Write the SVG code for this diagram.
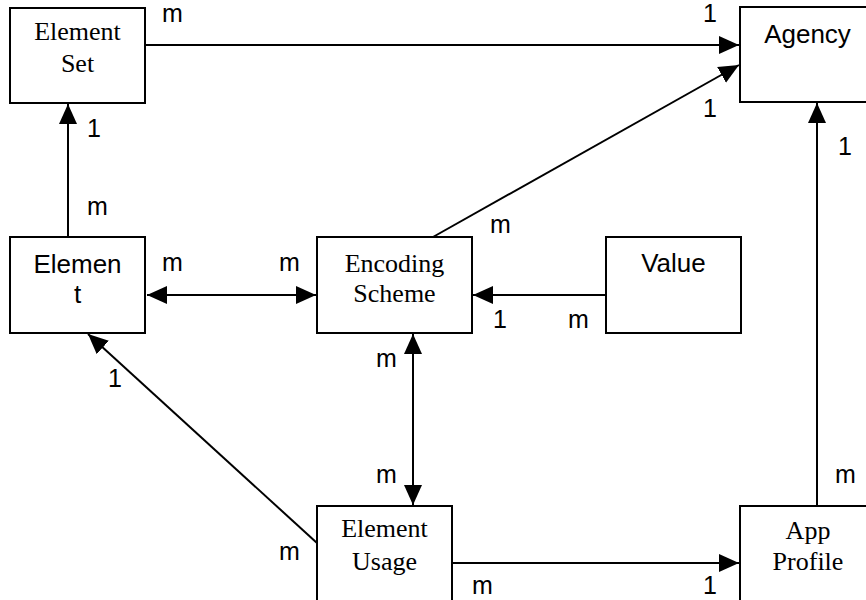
<svg xmlns="http://www.w3.org/2000/svg" width="866" height="600" viewBox="0 0 866 600">
<style>
.box{fill:#fff;stroke:#000;stroke-width:2}
.ser{font-family:"Liberation Serif","Times New Roman",serif;font-size:26px;text-anchor:middle;fill:#000}
.san{font-family:"Liberation Sans",Arial,sans-serif;font-size:26px;text-anchor:middle;fill:#000}
.lbl{font-family:"Liberation Sans",Arial,sans-serif;font-size:25px;fill:#000}
.ln{stroke:#000;stroke-width:2;fill:none}
</style>
<defs>
<marker id="ah" markerUnits="userSpaceOnUse" markerWidth="21" markerHeight="20" refX="20" refY="10" orient="auto-start-reverse">
<path d="M0,1 L20,10 L0,19 Z" fill="#000"/>
</marker>
</defs>
<rect width="866" height="600" fill="#fff"/>
<g id="connectors">
<line class="ln" x1="145" y1="45" x2="739" y2="45" marker-end="url(#ah)"/>
<line class="ln" x1="433" y1="237" x2="739" y2="65" marker-end="url(#ah)"/>
<line class="ln" x1="68" y1="237" x2="68" y2="104" marker-end="url(#ah)"/>
<line class="ln" x1="147" y1="295" x2="316" y2="295" marker-start="url(#ah)" marker-end="url(#ah)"/>
<line class="ln" x1="606" y1="295" x2="473" y2="295" marker-end="url(#ah)"/>
<line class="ln" x1="413" y1="334" x2="413" y2="505" marker-start="url(#ah)" marker-end="url(#ah)"/>
<line class="ln" x1="317" y1="543" x2="88" y2="334" marker-end="url(#ah)"/>
<line class="ln" x1="452" y1="563" x2="739" y2="563" marker-end="url(#ah)"/>
<line class="ln" x1="817" y1="506" x2="817" y2="103" marker-end="url(#ah)"/>
</g>
<g id="labels">
<text class="lbl" x="162" y="22">m</text>
<text class="lbl" x="703" y="22">1</text>
<text class="lbl" x="703" y="117">1</text>
<text class="lbl" x="87" y="137">1</text>
<text class="lbl" x="87" y="215">m</text>
<text class="lbl" x="490" y="233">m</text>
<text class="lbl" x="162" y="271">m</text>
<text class="lbl" x="279" y="271">m</text>
<text class="lbl" x="493" y="328">1</text>
<text class="lbl" x="568" y="328">m</text>
<text class="lbl" x="838" y="155">1</text>
<text class="lbl" x="376" y="367">m</text>
<text class="lbl" x="108" y="387">1</text>
<text class="lbl" x="376" y="483">m</text>
<text class="lbl" x="835" y="483">m</text>
<text class="lbl" x="279" y="560">m</text>
<text class="lbl" x="472" y="594">m</text>
<text class="lbl" x="703" y="594">1</text>
</g>
<g id="element-set">
<rect class="box" x="10" y="8" width="135" height="95"/>
<text class="ser" x="77.5" y="40">Element</text>
<text class="ser" x="77.5" y="72">Set</text>
</g>
<g id="agency">
<rect class="box" x="740" y="7" width="135" height="95"/>
<text class="san" x="807.5" y="43">Agency</text>
</g>
<g id="element">
<rect class="box" x="10" y="237" width="135" height="96"/>
<text class="san" x="77.5" y="273">Elemen</text>
<text class="san" x="77.5" y="303">t</text>
</g>
<g id="encoding-scheme">
<rect class="box" x="317" y="237" width="155" height="96"/>
<text class="ser" x="394.5" y="272">Encoding</text>
<text class="ser" x="394.5" y="302">Scheme</text>
</g>
<g id="value">
<rect class="box" x="606" y="237" width="135" height="96"/>
<text class="san" x="673.5" y="272">Value</text>
</g>
<g id="element-usage">
<rect class="box" x="317" y="506" width="135" height="130"/>
<text class="ser" x="384.5" y="537">Element</text>
<text class="ser" x="384.5" y="570">Usage</text>
</g>
<g id="app-profile">
<rect class="box" x="740" y="506" width="135" height="130"/>
<text class="ser" x="808" y="539">App</text>
<text class="ser" x="808" y="570">Profile</text>
</g>
</svg>
